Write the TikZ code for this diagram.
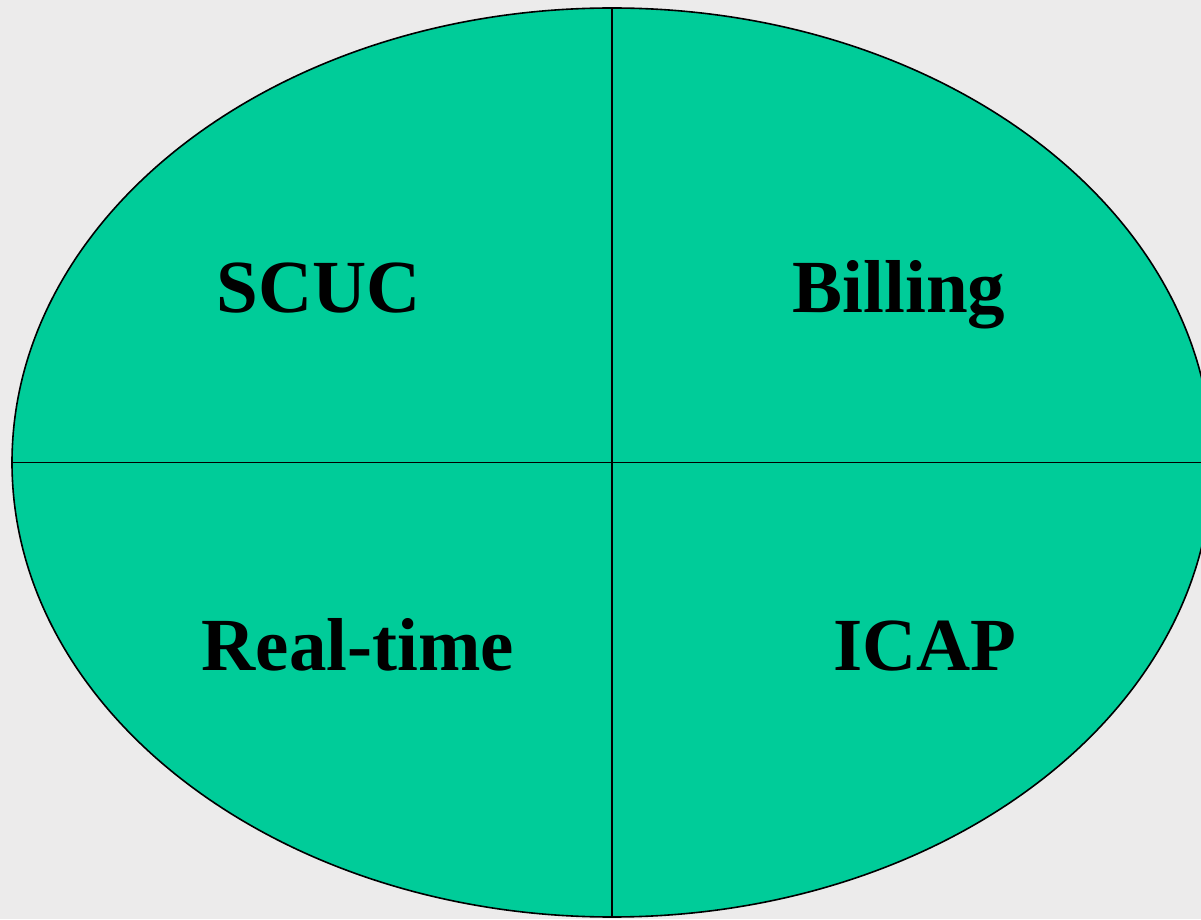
\documentclass[tikz,border=0pt]{standalone}
\usepackage{fontspec}
\setmainfont{Liberation Serif}
\usepackage{xcolor}
\usetikzlibrary{shapes.geometric, positioning}
\definecolor{paper}{RGB}{236, 235, 235}
\definecolor{quadgreen}{RGB}{0, 204, 153}

\tikzset{
  quadlabel/.style={anchor=base, font=\fontsize{75}{82}\selectfont\bfseries}
}

\begin{document}
\begin{tikzpicture}[x=1pt,y=1pt]
% Background
\fill[paper] (0,0) rectangle (1201,919);
\useasboundingbox (0,0) rectangle (1201,919);

% Ellipse split in four
\node[draw, ellipse, fill=quadgreen, line width=1.6pt, inner sep=0pt,
      minimum width=1200pt, minimum height=909pt] (plan) at (612,456.5) {};
\draw[line width=1.8pt] (plan.north) -- (plan.south);
\draw[line width=1.8pt] (plan.west) -- (plan.east);

% Labels
\node[quadlabel] (scuc) at (319,606) {SCUC};
\node[quadlabel] (billing) at (899,606) {Billing};
\node[quadlabel] (realtime) at (358,249) {Real-time};
\node[quadlabel] (icap) at (925,249) {ICAP};
\end{tikzpicture}
\end{document}
